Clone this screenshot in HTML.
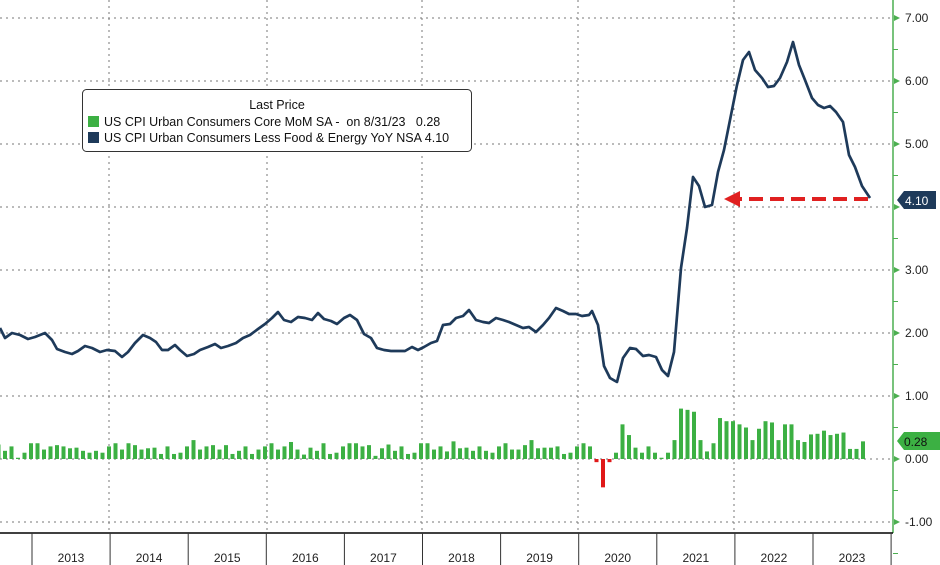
<!DOCTYPE html>
<html><head><meta charset="utf-8"><style>
body{margin:0;background:#fff;}
svg{display:block;font-family:"Liberation Sans",sans-serif;}
text{white-space:pre;}
</style></head><body>
<svg id="s" width="940" height="565" viewBox="0 0 940 565">
<g stroke="#777" stroke-width="1" stroke-dasharray="2,4" id="grid"></g>
<g id="bars"></g>
<polyline id="ln" fill="none" stroke="#1e3a5a" stroke-width="2.7" stroke-linejoin="round"/>
<line x1="893" y1="0" x2="893" y2="533" stroke="#4caf50" stroke-width="1.5"/>
<g id="rax" font-size="12" fill="#222"></g>
<line x1="0" y1="533" x2="893" y2="533" stroke="#000" stroke-width="1.5"/>
<g id="xax" font-size="12" fill="#222" text-anchor="middle"></g>
<line x1="868" y1="199" x2="740" y2="199" stroke="#e02020" stroke-width="4" stroke-dasharray="14,7"/>
<polygon points="724,199 740,191 740,207" fill="#e02020"/>
<polygon points="897,200 904,191 936,191 936,209 904,209" fill="#1e3a5a"/>
<text x="905" y="205" font-size="12" fill="#fff">4.10</text>
<polygon points="897,441 904,432 940,432 940,450 904,450" fill="#3cb043"/>
<text x="904" y="446" font-size="12" fill="#111">0.28</text>
<rect x="82.5" y="89.5" width="389" height="62" rx="4" fill="#fff" stroke="#333"/>
<text x="277" y="109" font-size="12.5" text-anchor="middle" fill="#111">Last Price</text>
<rect x="88" y="116" width="11" height="11" fill="#3cb043"/>
<text x="104" y="126" font-size="12.5" fill="#111" xml:space="preserve">US CPI Urban Consumers Core MoM SA -  on 8/31/23   0.28</text>
<rect x="88" y="132" width="11" height="11" fill="#1e3a5a"/>
<text x="104" y="142" font-size="12.5" fill="#111">US CPI Urban Consumers Less Food &amp; Energy YoY NSA 4.10</text>
</svg>
<script>
var NS="http://www.w3.org/2000/svg";
function el(t,a,p,txt){var e=document.createElementNS(NS,t);for(var k in a)e.setAttribute(k,a[k]);if(txt)e.textContent=txt;document.getElementById(p).appendChild(e);return e;}
function Y(v){return 459-63*v;}
for(var v=-1;v<=7;v++){el("line",{x1:0,x2:893,y1:Y(v),y2:Y(v)},"grid");
 if(v!=4)el("text",{x:905,y:Y(v)+4},"rax",v.toFixed(2));
 el("polygon",{points:(894)+","+(Y(v)-3)+" 900,"+Y(v)+" 894,"+(Y(v)+3),fill:"#4caf50"},"rax");
 el("line",{x1:893,x2:898,y1:Y(v)+31.5,y2:Y(v)+31.5,stroke:"#4caf50"},"rax");}
[109,267,422,578,734].forEach(function(x){el("line",{x1:x,x2:x,y1:0,y2:533},"grid");});
var yrs=[2013,2014,2015,2016,2017,2018,2019,2020,2021,2022,2023];
for(var i=0;i<=11;i++){var x=32+i*78.1;el("line",{x1:x,x2:x,y1:533,y2:565,stroke:"#333"},"xax");
 if(i<11)el("text",{x:x+39,y:562},"xax",yrs[i]);}
var pre=[];
var pat=[.18,.15,.2,.22,.1,.17,.25,.13,.2,.08,.15,.2];
for(var i=0;i<90;i++){var v=pat[(i*7)%12]+ ((i%5==0)?0.05:0)-((i%11==3)?0.1:0);pre.push(Math.max(0.02,v));}
pre[82]=0.3;pre[70]=0.28;pre[55]=0.25;
var post=[.25,.2,-.05,-.45,-.05,.1,.55,.38,.18,.1,.2,.1,.02,.1,.3,.8,.78,.75,.3,.12,.25,.65,.6,.6,.55,.5,.3,.48,.6,.58,.3,.55,.55,.3,.27,.39,.4,.45,.38,.4,.42,.16,.16,.28];
var d=pre.concat(post);
for(var i=0;i<d.length;i++){var x=863-(d.length-1-i)*6.5;var v=d[i];
 var neg=v<0;el("rect",{x:x-2,y:neg?459:Y(v),width:4,height:Math.abs(v)*63,fill:neg?"#e01818":"#3cb043"},"bars");}
var pts=[[0,328],[5,338],[12,333],[20,335],[28,339],[35,337],[45,333],[52,340],[57,349],[65,352],[72,354],[78,351],[85,346],[92,348],[100,352],[107,350],[115,351],[122,357],[128,352],[135,343],[143,335],[150,338],[156,342],[162,350],[168,350],[175,345],[180,350],[187,356],[194,354],[200,350],[208,347],[215,344],[221,348],[228,346],[236,343],[243,338],[250,335],[258,329],[265,324],[272,318],[278,312],[284,320],[291,322],[298,317],[305,318],[312,320],[318,313],[324,319],[331,321],[337,324],[344,318],[350,315],[357,320],[364,334],[371,338],[377,348],[384,350],[391,351],[398,351],[405,351],[412,347],[418,350],[424,347],[431,343],[437,341],[443,325],[450,324],[456,318],[463,316],[469,310],[476,320],[483,322],[489,323],[496,318],[503,320],[509,322],[516,325],[523,328],[529,327],[536,332],[543,325],[549,318],[556,308],[563,311],[569,314],[576,314],[582,316],[589,315],[592,311],[598,325],[604,366],[610,378],[617,382],[623,358],[630,348],[636,349],[643,356],[649,355],[656,357],[662,370],[668,376],[674,352],[681,268],[687,228],[693,177],[699,186],[705,207],[712,205],[718,172],[724,150],[730,120],[737,85],[743,60],[749,52],[755,70],[762,78],[768,87],[774,86],[780,78],[787,62],[793,42],[799,65],[805,80],[812,98],[818,105],[824,108],[830,106],[836,112],[843,122],[849,155],[855,167],[862,186],[870,198]];
document.getElementById("ln").setAttribute("points",pts.map(function(p){return p.join(",")}).join(" "));
</script>
</body></html>
